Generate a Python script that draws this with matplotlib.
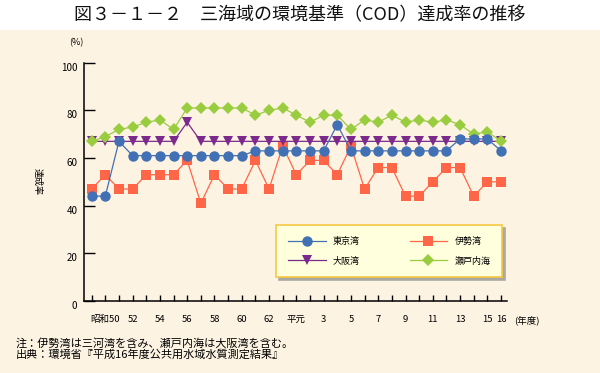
import matplotlib
matplotlib.use("Agg")
import matplotlib.pyplot as plt
import matplotlib.transforms as mtransforms
from matplotlib.patches import Rectangle

plt.rcParams['font.family'] = ['Noto Sans CJK JP', 'DejaVu Sans']

# ---- data ----
years_idx = list(range(31))  # 昭和49 (1974) .. 平成16 (2004)
xtick_labels = ['', '昭和50', '', '52', '', '54', '', '56', '', '58', '', '60', '', '62', '',
                '平元', '', '3', '', '5', '', '7', '', '9', '', '11', '', '13', '', '15', '16']
tokyo = [44, 44, 67, 61, 61, 61, 61, 61, 61, 61, 61, 61, 63, 63, 63, 63, 63, 63, 74, 63,
         63, 63, 63, 63, 63, 63, 63, 68, 68, 68, 63]
ise = [47, 53, 47, 47, 53, 53, 53, 59, 41, 53, 47, 47, 59, 47, 65, 53, 59, 59, 53, 65,
       47, 56, 56, 44, 44, 50, 56, 56, 44, 50, 50]
osaka = [67, 67, 67, 67, 67, 67, 67, 75, 67, 67, 67, 67, 67, 67, 67, 67, 67, 67, 67, 67,
         67, 67, 67, 67, 67, 67, 67, 67, 67, 67, 67]
seto = [67, 69, 72, 73, 75, 76, 72, 81, 81, 81, 81, 81, 78, 80, 81, 78, 75, 78, 78, 72,
        76, 75, 78, 75, 76, 75, 76, 74, 70, 71, 67]
yticks = [0, 20, 40, 60, 80, 100]

BG = '#FDF3E3'
W, H = 600, 373
fig = plt.figure(figsize=(6.0, 3.73), dpi=100, facecolor=BG)

# white title band
fig.patches.append(Rectangle((0, 1 - 30 / H), 1, 30 / H, transform=fig.transFigure,
                             facecolor='white', edgecolor='none', zorder=0))
fig.text(0.5, 1 - 15 / H, '図３－１－２　三海域の環境基準（COD）達成率の推移',
         ha='center', va='center', fontsize=13, color='#111111')

ax = fig.add_axes([84.3 / W, 1 - 301 / H, (507.3 - 84.3) / W, (301 - 62.7) / H])
ax.set_facecolor(BG)

c_tokyo = '#4170B4'
c_ise = '#FF6647'
c_osaka = '#7B2A8C'
c_seto = '#99CC3F'

ax.plot(years_idx, ise, color=c_ise, lw=0.9, marker='s', ms=6.5, mew=0, zorder=2, label='伊勢湾')
ax.plot(years_idx, osaka, color=c_osaka, lw=0.9, marker='v', ms=7, mew=0, zorder=3, label='大阪湾')
ax.plot(years_idx, seto, color=c_seto, lw=0.9, marker='D', ms=6.4, mew=0, zorder=4, label='瀬戸内海')
ax.plot(years_idx, tokyo, color=c_tokyo, lw=0.9, marker='o', ms=7.5, mew=0, zorder=5, label='東京湾')

ax.set_xlim(-0.54, 30.46)
ax.set_ylim(0, 100)
ax.set_xticks(years_idx)
ax.set_xticklabels(xtick_labels, fontsize=6.8)
ax.set_yticks(yticks)
ax.set_yticklabels([str(v) for v in yticks], fontsize=7)
ax.tick_params(axis='x', direction='in', length=4.3, width=1, pad=10, color='black')
ax.tick_params(axis='y', direction='in', length=8, width=1, pad=5, color='black')
for s in ['top', 'right']:
    ax.spines[s].set_visible(False)
for s in ['left', 'bottom']:
    ax.spines[s].set_linewidth(1.1)
    ax.spines[s].set_color('black')

off = mtransforms.ScaledTranslation(0, -4 / 100, fig.dpi_scale_trans)
for lab in ax.get_yticklabels():
    lab.set_transform(lab.get_transform() + off)

ax.text(31.9, -19 / 238.3, '(年度)', transform=ax.get_xaxis_transform(), fontsize=6.8,
        ha='center', va='center')
fig.text(76 / W, 1 - 43 / H, '(%)', fontsize=6.5, ha='center', va='center')
fig.text(37.5 / W, 1 - 182 / H, '達成率', fontsize=6.5, rotation=270, ha='center', va='center')

h, l = ax.get_legend_handles_labels()
order = [3, 1, 0, 2]
leg = ax.legend([h[i] for i in order], [l[i] for i in order], ncol=2, loc='upper left',
                bbox_to_anchor=((276 - 84.3) / 423, (301 - 225) / 238.3),
                borderaxespad=0, fontsize=6.5, handlelength=4.2, handletextpad=0.8,
                columnspacing=5.5, labelspacing=1.2, borderpad=1.3,
                frameon=True, fancybox=False, framealpha=1,
                facecolor='#FFFFDD', edgecolor='#F7C844',
                shadow={'color': '#A9A9A2', 'alpha': 1})
leg.get_frame().set_linewidth(1.2)
leg.set_zorder(10)
# widen right padding of the legend box to match the reference
for t in leg.get_texts():
    pass

fig.text(16 / W, 1 - 343 / H, '注：伊勢湾は三河湾を含み、瀬戸内海は大阪湾を含む。',
         fontsize=8, ha='left', va='center')
fig.text(16 / W, 1 - 355 / H, '出典：環境省『平成16年度公共用水域水質測定結果』',
         fontsize=8, ha='left', va='center')

fig.savefig('out.png', dpi=100, facecolor=BG)
